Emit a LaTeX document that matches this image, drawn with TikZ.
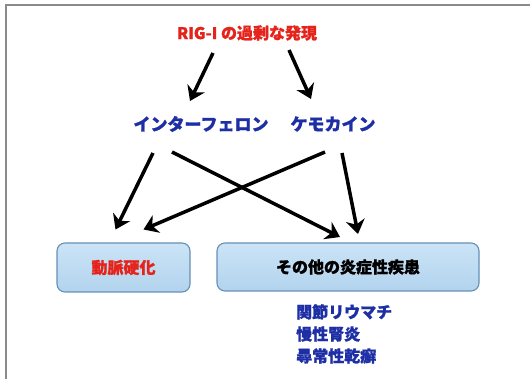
\documentclass[tikz,border=0pt]{standalone}
\usepackage{fontspec}
\newfontfamily\jp{Noto Sans CJK JP}[BoldFeatures={FakeBold=1.2}]
\usetikzlibrary{arrows.meta,calc}
\definecolor{tred}{HTML}{E5231B}
\definecolor{tblue}{HTML}{1E2FA6}
\definecolor{boxtop}{HTML}{CBE4F6}
\definecolor{boxbot}{HTML}{B2D3EE}
\definecolor{boxedge}{HTML}{6690B5}
\definecolor{frame}{HTML}{8A8A8A}
\begin{document}
\begin{tikzpicture}[x=1pt,y=-1pt,
  txt/.style={font=\jp\bfseries\fontsize{16}{20}\selectfont, inner sep=0pt},
  arr/.style={line width=3.5pt, draw=black, -{Stealth[length=14pt,width=19pt,inset=4.5pt]}},
  dbox/.style={draw=boxedge, line width=1.1pt, rounded corners=8pt, top color=boxtop, bottom color=boxbot, inner sep=0pt}]
\useasboundingbox (0,0) rectangle (530,379);
\fill[white] (0,0) rectangle (530,379);
\draw[frame, line width=1.6pt] (6,379) -- (6,5) -- (530,5);
% nodes
\node[txt, text=tred] (t) at (247,33) {RIG-I の過剰な発現};
\node[txt, text=tblue, font=\jp\bfseries\fontsize{17}{20}\selectfont] (ifn) at (201,124) {インターフェロン};
\node[txt, text=tblue, font=\jp\bfseries\fontsize{17}{20}\selectfont] (chem) at (333,124) {ケモカイン};
\node[dbox, minimum width=133pt, minimum height=49pt] (b1) at (123.5,267.5) {};
\node[txt, text=tred] at (b1) {動脈硬化};
\node[dbox, minimum width=262pt, minimum height=48pt] (b2) at (348,267) {};
\node[txt, text=black] at (b2) {その他の炎症性疾患};
\node[txt, text=tblue, align=left, anchor=north west, font=\jp\bfseries\fontsize{16}{22}\selectfont] (list) at (296,304) {関節リウマチ\\慢性腎炎\\尋常性乾癬};
% arrows
\draw[arr] ($(t)+(-34,20)$) -- ($(ifn)+(-11,-23)$);
\draw[arr] ($(t)+(42,17)$) -- ($(chem)+(-22,-25)$);
\draw[arr] ($(ifn)+(-48,29)$) -- ($(b1)+(-8,-38)$);
\draw[arr] ($(ifn)+(-29,28)$) -- ($(b2)+(-8,-30)$);
\draw[arr] ($(chem)+(-8,28)$) -- ($(b1)+(20,-38)$);
\draw[arr] ($(chem)+(9,29)$) -- ($(b2)+(10,-33)$);
\end{tikzpicture}
\end{document}
